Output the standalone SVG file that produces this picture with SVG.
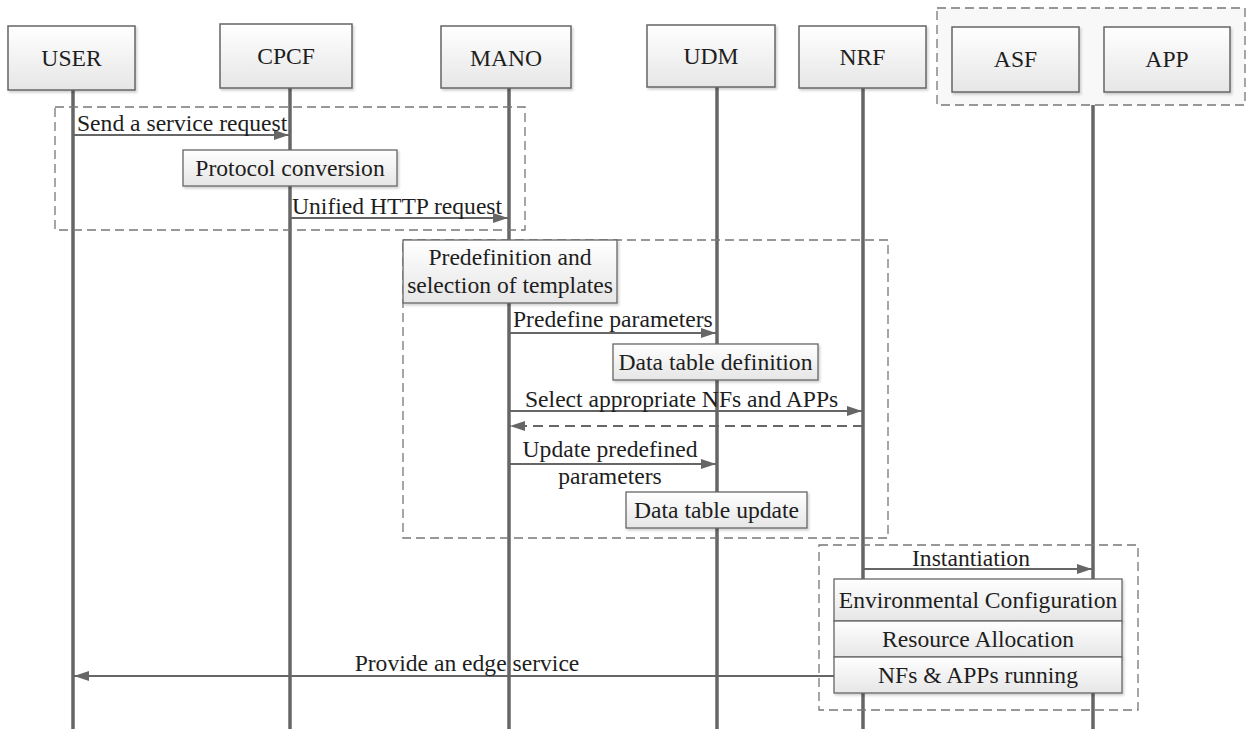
<svg xmlns="http://www.w3.org/2000/svg" width="1248" height="729" viewBox="0 0 1248 729">
<style>
text{font-family:"Liberation Serif","Times New Roman",serif;font-size:23.6px;fill:#1e1e1e}
.node{fill:url(#g);stroke:#666;stroke-width:1.5;filter:url(#sh)}
.box{fill:url(#g);stroke:#666;stroke-width:1.3;filter:url(#sh)}
.life{stroke:#666;stroke-width:3.5;fill:none}
.msg{stroke:#666;stroke-width:2;fill:none;marker-end:url(#ah)}
.ret{stroke:#666;stroke-width:2;fill:none;stroke-dasharray:10 6;marker-end:url(#ah)}
.grp{fill:none;stroke:#777;stroke-width:1.3;stroke-dasharray:9 5}
.c{text-anchor:middle}
</style>
<defs>
<linearGradient id="g" x1="0" y1="0" x2="0" y2="1"><stop offset="0" stop-color="#ffffff"/><stop offset="1" stop-color="#e6e6e6"/></linearGradient>
<filter id="sh" x="-5%" y="-5%" width="115%" height="125%"><feDropShadow dx="1.5" dy="2" stdDeviation="1" flood-color="#000" flood-opacity="0.18"/></filter>
<marker id="ah" viewBox="0 0 15 10" refX="15" refY="5" markerWidth="15" markerHeight="10" markerUnits="userSpaceOnUse" orient="auto"><path d="M0,0 L15,5 L0,10 Z" fill="#666"/></marker>
</defs>

<g id="asf-app-group">
<rect x="937" y="8" width="308" height="97" fill="#f8f8f8" stroke="#777" stroke-width="1.3" stroke-dasharray="9 5"/>
</g>

<g id="lifelines">
<line class="life" x1="73" y1="90" x2="73" y2="729"/>
<line class="life" x1="290" y1="88" x2="290" y2="729"/>
<line class="life" x1="509" y1="88" x2="509" y2="729"/>
<line class="life" x1="717" y1="87" x2="717" y2="729"/>
<line class="life" x1="863" y1="88" x2="863" y2="729"/>
<line class="life" x1="1093" y1="105" x2="1093" y2="729"/>
</g>

<g id="USER"><rect class="node" x="8" y="26" width="127" height="64"/><text class="c" x="71.5" y="66">USER</text></g>
<g id="CPCF"><rect class="node" x="220" y="24" width="132" height="64"/><text class="c" x="286" y="64">CPCF</text></g>
<g id="MANO"><rect class="node" x="441" y="26" width="130" height="62"/><text class="c" x="506" y="66">MANO</text></g>
<g id="UDM"><rect class="node" x="647" y="25" width="128" height="62"/><text class="c" x="711" y="64">UDM</text></g>
<g id="NRF"><rect class="node" x="799" y="26" width="127" height="62"/><text class="c" x="862.5" y="65">NRF</text></g>
<g id="ASF"><rect class="node" x="952" y="27" width="127" height="65"/><text class="c" x="1015.5" y="67">ASF</text></g>
<g id="APP"><rect class="node" x="1104" y="27" width="126" height="65"/><text class="c" x="1167" y="67">APP</text></g>

<g id="groups">
<rect class="grp" x="55" y="107" width="470" height="123"/>
<rect class="grp" x="403" y="240" width="485" height="298"/>
<rect class="grp" x="819" y="545" width="319" height="165"/>
</g>

<g id="connectors">
<line class="msg" x1="73" y1="135" x2="289" y2="135"/>
<line class="msg" x1="290" y1="218" x2="508" y2="218"/>
<line class="msg" x1="509" y1="333" x2="716" y2="333"/>
<line class="msg" x1="509" y1="411" x2="862" y2="411"/>
<line class="ret" x1="863" y1="426" x2="510" y2="426"/>
<line class="msg" x1="509" y1="464" x2="716" y2="464"/>
<line class="msg" x1="863" y1="569" x2="1092" y2="569"/>
<line class="msg" x1="834" y1="676" x2="74" y2="676"/>
</g>

<g id="labels">
<text x="77" y="131">Send a service request</text>
<text x="292" y="214">Unified HTTP request</text>
<text x="513" y="327">Predefine parameters</text>
<text x="525" y="407">Select appropriate NFs and APPs</text>
<text class="c" x="610" y="457">Update predefined</text>
<text class="c" x="610" y="484">parameters</text>
<text class="c" x="971" y="566">Instantiation</text>
<text class="c" x="467" y="671">Provide an edge service</text>
</g>

<g id="protocol-conversion"><rect class="box" x="183" y="150" width="214" height="36"/><text class="c" x="290" y="176">Protocol conversion</text></g>
<g id="templates"><rect class="box" x="403" y="240" width="214" height="63"/><text class="c" x="510" y="265">Predefinition and</text><text class="c" x="510" y="293">selection of templates</text></g>
<g id="data-table-definition"><rect class="box" x="613" y="344" width="205" height="36"/><text class="c" x="715.5" y="370">Data table definition</text></g>
<g id="data-table-update"><rect class="box" x="626" y="492" width="181" height="36"/><text class="c" x="716.5" y="518">Data table update</text></g>
<g id="environmental-configuration"><rect class="box" x="834" y="579" width="288" height="42"/><text class="c" x="978" y="608">Environmental Configuration</text></g>
<g id="resource-allocation"><rect class="box" x="834" y="621" width="288" height="36"/><text class="c" x="978" y="647">Resource Allocation</text></g>
<g id="nfs-apps-running"><rect class="box" x="834" y="657" width="288" height="36"/><text class="c" x="978" y="683">NFs &amp; APPs running</text></g>
</svg>
